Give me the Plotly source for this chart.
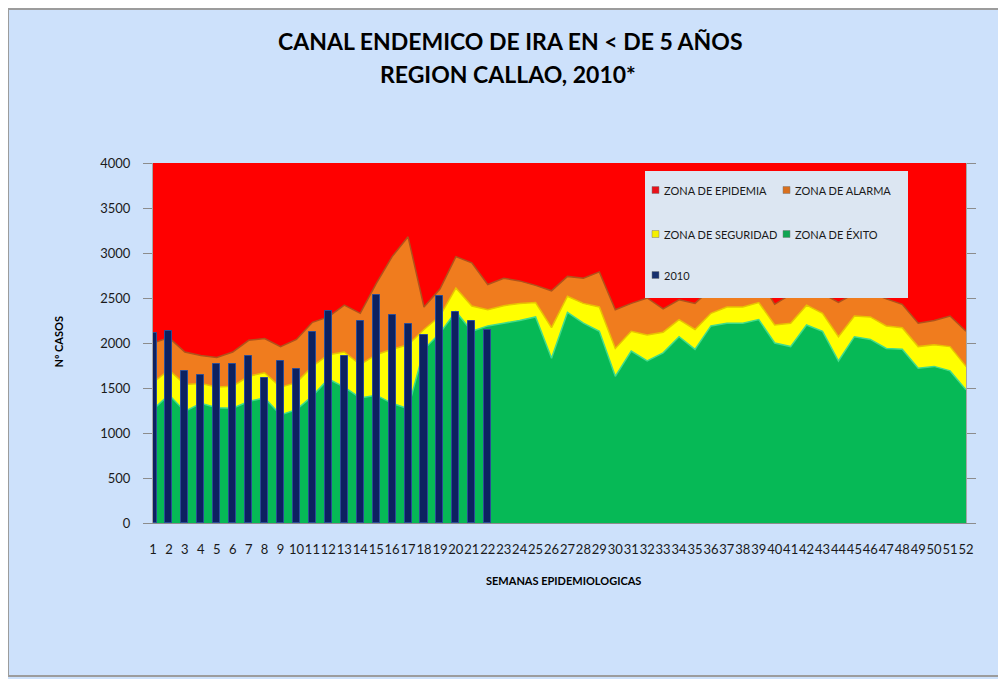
import plotly.graph_objects as go

# semanas epidemiologicas 1..52
semanas = list(range(1, 53))

# limites superiores de cada zona (casos acumulados)
exito = [1260, 1425, 1240, 1330, 1280, 1275, 1350, 1390, 1200, 1260,
         1410, 1600, 1510, 1390, 1420, 1330, 1270, 1930, 2110, 2350,
         2130, 2190, 2220, 2250, 2290, 1830, 2340, 2220, 2130, 1630,
         1910, 1800, 1890, 2070, 1930, 2190, 2220, 2220, 2260, 2000,
         1960, 2200, 2130, 1800, 2070, 2040, 1940, 1930, 1720, 1740,
         1690, 1480]
seguridad = [1560, 1700, 1540, 1550, 1510, 1520, 1630, 1670, 1510, 1560,
             1740, 1870, 1900, 1760, 1870, 1930, 1980, 2150, 2300, 2610,
             2410, 2370, 2415, 2440, 2450, 2170, 2520, 2440, 2400, 1940,
             2130, 2090, 2120, 2260, 2150, 2330, 2400, 2400, 2450, 2200,
             2220, 2420, 2330, 2070, 2300, 2290, 2190, 2170, 1960, 1980,
             1960, 1740]
alarma = [2000, 2060, 1900, 1860, 1840, 1900, 2030, 2050, 1960, 2040,
          2230, 2290, 2420, 2330, 2660, 2960, 3180, 2400, 2600, 2960,
          2890, 2650, 2720, 2690, 2640, 2580, 2740, 2720, 2790, 2370,
          2440, 2500, 2380, 2480, 2440, 2600, 2660, 2680, 2720, 2430,
          2540, 2600, 2550, 2450, 2550, 2560, 2490, 2430, 2220, 2250,
          2300, 2130]

# casos 2010 (semanas 1..22)
semanas_2010 = list(range(1, 23))
casos_2010 = [2110, 2130, 1690, 1640, 1770, 1770, 1860, 1610, 1800, 1710,
              2120, 2360, 1860, 2250, 2530, 2310, 2210, 2090, 2520, 2350,
              2240, 2150]

FONT = "Lato"
OFF = 8  # margen del body en la pagina html
W, H = 998, 671
L, R, T, B = 153 - OFF, 966 - OFF, 163 - OFF, 523 - OFF


def px(x):
    # x en pixeles de la pagina -> fraccion del area de trazado
    return (x - OFF - L) / (R - L)


def py(y):
    return (B - (y - OFF)) / (B - T)


fig = go.Figure()

fig.add_trace(go.Scatter(x=semanas, y=exito, mode="lines", fill="tozeroy",
                         fillcolor="#06b956", line=dict(color="#3fdc8c", width=1.5),
                         name="ZONA DE ÉXITO", showlegend=False, hoverinfo="skip"))
fig.add_trace(go.Scatter(x=semanas, y=seguridad, mode="lines", fill="tonexty",
                         fillcolor="#ffff00", line=dict(color="#e8c400", width=1.5),
                         name="ZONA DE SEGURIDAD", showlegend=False, hoverinfo="skip"))
fig.add_trace(go.Scatter(x=semanas, y=alarma, mode="lines", fill="tonexty",
                         fillcolor="#f07c1e", line=dict(color="#b0521c", width=1.5),
                         name="ZONA DE ALARMA", showlegend=False, hoverinfo="skip"))
fig.add_trace(go.Bar(x=semanas_2010, y=casos_2010, yaxis="y2", width=0.44,
                     marker=dict(color="#0d2160", line=dict(color="#2b4c96", width=1)),
                     name="2010", showlegend=False))

fig.update_layout(
    width=W, height=H,
    margin=dict(l=L, r=W - R, t=T, b=H - B),
    paper_bgcolor="#cde1fb",
    plot_bgcolor="#ff0000",
    font=dict(family=FONT, color="#1a1a1a"),
    xaxis=dict(range=[1, 52], tickmode="linear", tick0=1, dtick=1, tickangle=0,
               showgrid=False, zeroline=False, showline=True, linecolor="#8c8c8c",
               ticks="outside", ticklen=14, tickcolor="rgba(0,0,0,0)",
               tickfont=dict(size=13, color="#1a1a1a")),
    yaxis=dict(range=[0, 4000], dtick=500, showgrid=False, zeroline=False,
               showline=True, linecolor="#a6a6a6", mirror="ticks",
               ticks="outside", ticklen=9, tickcolor="#8c8c8c",
               ticklabelstandoff=10, tickfont=dict(size=13, color="#1a1a1a")),
    yaxis2=dict(range=[0, 4000], overlaying="y", visible=False),
    bargap=0,
    showlegend=False,
)

shapes = [
    dict(type="rect", xref="paper", yref="paper", layer="below",
         x0=px(8), x1=px(1003), y0=py(676), y1=py(9),
         line=dict(color="#9c9c9c", width=2)),
    dict(type="rect", xref="paper", yref="paper", layer="above",
         x0=px(645), x1=px(908), y0=py(298), y1=py(171),
         fillcolor="#dce6f2", line=dict(width=0)),
]

annotations = [
    dict(text="<b>CANAL ENDEMICO DE IRA EN < DE 5 AÑOS</b>", x=px(510), y=py(41),
         font=dict(size=23, color="#000000")),
    dict(text="<b>REGION CALLAO, 2010*</b>", x=px(508), y=py(74),
         font=dict(size=23, color="#000000")),
    dict(text="<b>Nº CASOS</b>", x=px(49), y=py(342), textangle=-90,
         font=dict(size=11, color="#000000")),
    dict(text="<b>SEMANAS EPIDEMIOLOGICAS</b>", x=px(563), y=py(580),
         font=dict(size=11, color="#000000")),
]

legend_items = [
    ("ZONA DE EPIDEMIA", "#e8121a", 652, 190),
    ("ZONA DE ALARMA", "#d9701e", 783, 190),
    ("ZONA DE SEGURIDAD", "#f4f000", 652, 234),
    ("ZONA DE ÉXITO", "#10a552", 783, 234),
    ("2010", "#17306e", 652, 275),
]
for label, color, x, y in legend_items:
    shapes.append(dict(type="rect", xref="paper", yref="paper", layer="above",
                       x0=px(x), x1=px(x + 7), y0=py(y + 3.5), y1=py(y - 3.5),
                       fillcolor=color, line=dict(color="#7a7a7a", width=0.5)))
    annotations.append(dict(text=label, x=px(x + 10), y=py(y), xanchor="left",
                            font=dict(size=11, color="#1a1a1a")))

for a in annotations:
    a.update(xref="paper", yref="paper", showarrow=False)
    a.setdefault("yanchor", "middle")

fig.update_layout(shapes=shapes, annotations=annotations)

fig.write_html("out.html")
